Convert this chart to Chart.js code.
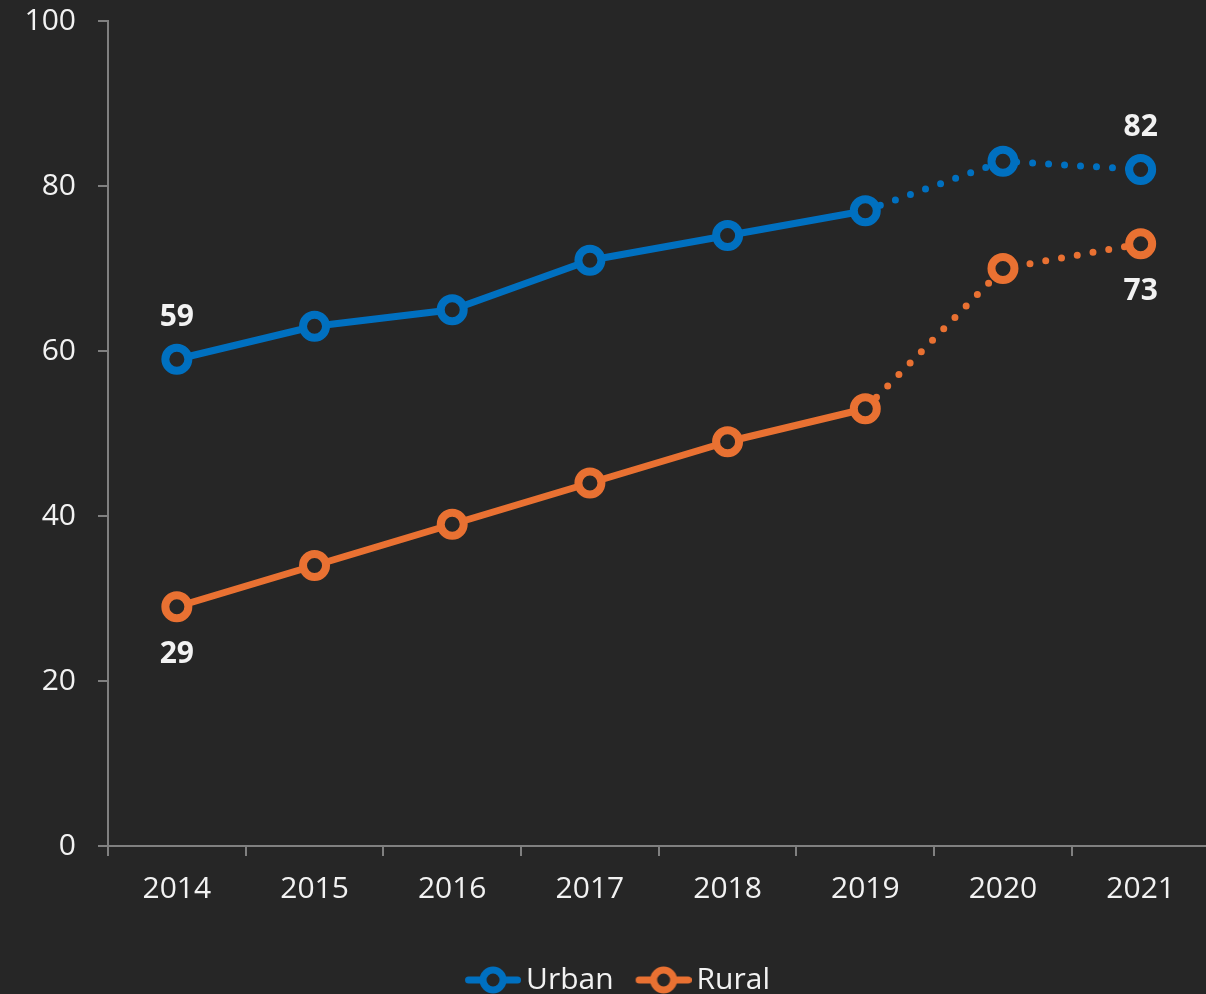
<!DOCTYPE html>
<html>
<head>
<meta charset="utf-8">
<script src="https://cdn.jsdelivr.net/npm/chart.js@4/dist/chart.umd.min.js"></script>
<style>
  html, body { margin: 0; padding: 0; background: #262626; overflow: hidden; }
  #wrap { position: relative; width: 1229px; height: 1005px; }
</style>
</head>
<body>
<div id="wrap"><canvas id="chart"></canvas></div>
<script>
// Share of households (%) by area, 2014–2021
const years = ['2014', '2015', '2016', '2017', '2018', '2019', '2020', '2021'];
const urban = [59, 63, 65, 71, 74, 77, 83, 82];
const rural = [29, 34, 39, 44, 49, 53, 70, 73];
const yTicks = [0, 20, 40, 60, 80, 100];

const BG = '#262626';
const BLUE = '#0070C0';
const ORANGE = '#E97132';
const AXIS = '#808080';
const TEXT = '#f2f2f2';
const FONT = "'Open Sans', 'Noto Sans', sans-serif";

// From 2019 on the values are drawn dotted
const DOTTED_FROM = 5;

// Legend marker: short line with a hollow circle, with a little clear space on its left
const MARK_W = 41;
function legendMarker(color) {
  const c = document.createElement('canvas');
  c.width = MARK_W + 20; c.height = 30;
  const g = c.getContext('2d');
  const x0 = 5;
  g.strokeStyle = color;
  g.lineWidth = 7;
  g.lineCap = 'round';
  g.beginPath(); g.moveTo(x0 + 3.5, 15); g.lineTo(x0 + 52.5, 15); g.stroke();
  g.beginPath(); g.arc(x0 + 28, 15, 10, 0, Math.PI * 2);
  g.fillStyle = BG; g.fill();
  g.stroke();
  return c;
}
const markers = [legendMarker(BLUE), legendMarker(ORANGE)];

// Values at the first and last year
const endLabels = {
  id: 'endLabels',
  afterDatasetsDraw(chart) {
    const ctx = chart.ctx;
    ctx.save();
    ctx.font = `bold 30px ${FONT}`;
    ctx.fillStyle = TEXT;
    ctx.textAlign = 'center';
    ctx.textBaseline = 'middle';
    chart.data.datasets.forEach((ds, di) => {
      const meta = chart.getDatasetMeta(di);
      const off = ds.labelOffset;
      [0, ds.data.length - 1].forEach(i => {
        const p = meta.data[i];
        ctx.fillText(String(ds.data[i]), p.x, p.y + off);
      });
    });
    ctx.restore();
  }
};

function makeSet(label, data, color, labelOffset) {
  return {
    label, data, labelOffset,
    borderColor: color,
    backgroundColor: color,
    borderWidth: 7,
    borderCapStyle: 'round',
    borderJoinStyle: 'round',
    pointRadius: 11.5,
    pointHoverRadius: 11.5,
    pointBorderWidth: 8,
    pointBackgroundColor: BG,
    pointBorderColor: color,
    tension: 0,
    segment: {
      borderDash: c => c.p0DataIndex >= DOTTED_FROM ? [0, 16] : undefined
    }
  };
}

new Chart(document.getElementById('chart'), {
  type: 'line',
  data: {
    labels: years,
    datasets: [
      makeSet('Urban', urban, BLUE, -42),
      makeSet('Rural', rural, ORANGE, 48)
    ]
  },
  options: {
    responsive: true,
    maintainAspectRatio: false,
    animation: false,
    layout: { padding: { top: 21, left: 11, right: 0, bottom: 0 } },
    plugins: {
      tooltip: { enabled: false },
      legend: {
        position: 'bottom',
        labels: {
          color: TEXT,
          font: { family: FONT, size: 30 },
          usePointStyle: true,
          pointStyleWidth: MARK_W,
          boxHeight: 30,
          padding: 27,
          generateLabels(chart) {
            const items = Chart.defaults.plugins.legend.labels.generateLabels(chart);
            items.forEach((it, i) => { it.pointStyle = markers[i]; });
            return items;
          }
        }
      }
    },
    scales: {
      x: {
        offset: true,
        grid: { offset: true, drawOnChartArea: false, drawTicks: true, tickLength: 10, color: AXIS, lineWidth: 2 },
        border: { color: AXIS, width: 2 },
        ticks: { color: TEXT, font: { family: FONT, size: 30 }, padding: 15, maxRotation: 0 },
        afterFit(scale) { scale.height = 92; }
      },
      y: {
        min: 0, max: 100,
        afterBuildTicks(scale) { scale.ticks = yTicks.map(v => ({ value: v })); },
        grid: { drawOnChartArea: false, drawTicks: true, tickLength: 10, color: AXIS, lineWidth: 2 },
        border: { color: AXIS, width: 2 },
        ticks: { color: TEXT, font: { family: FONT, size: 30 }, padding: 22 },
        afterFit(scale) {
          scale.width = 97;
          scale.paddingTop = 0;
          scale.paddingBottom = 0;
        }
      }
    }
  },
  plugins: [endLabels]
});
</script>
</body>
</html>
